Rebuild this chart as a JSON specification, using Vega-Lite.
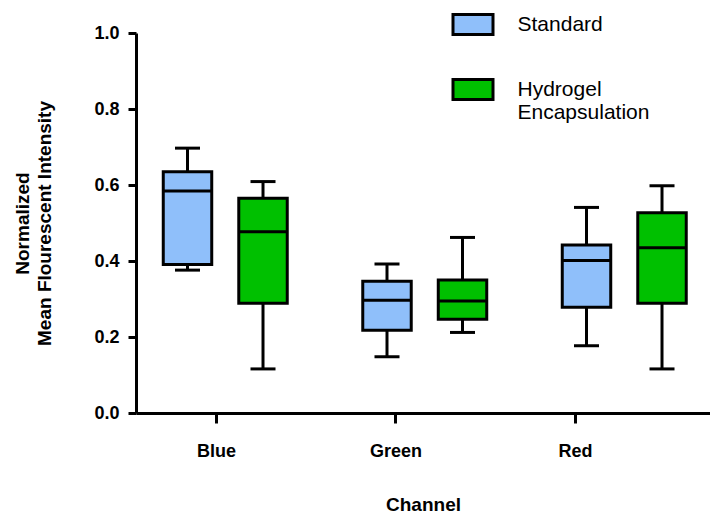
{
  "$schema": "https://vega.github.io/schema/vega-lite/v6.json",
  "width": 574,
  "height": 380,
  "autosize": {"type": "none"},
  "padding": {"left": 136, "top": 33, "right": 0, "bottom": 103},
  "background": "white",
  "config": {
    "view": {"stroke": null},
    "font": "Liberation Sans",
    "axis": {
      "domainColor": "black",
      "domainWidth": 3,
      "tickColor": "black",
      "tickWidth": 3,
      "labelColor": "black",
      "labelFont": "Liberation Sans",
      "labelFontWeight": "bold",
      "labelFontSize": 18,
      "titleFont": "Liberation Sans",
      "titleFontWeight": "bold",
      "titleFontSize": 19,
      "titleColor": "black",
      "grid": false
    },
    "axisY": {
      "tickSize": 8,
      "labelPadding": 9,
      "format": ".1f",
      "titleAngle": -90,
      "titleBaseline": "middle",
      "titleAlign": "center",
      "titleX": -114,
      "titleY": 190,
      "titleLineHeight": 22
    },
    "legend": {
      "orient": "none",
      "legendX": 315.5,
      "legendY": -30,
      "padding": 0,
      "labelFont": "Liberation Sans",
      "labelFontSize": 21,
      "labelColor": "black",
      "labelLimit": 400,
      "labelOffset": 23,
      "rowPadding": 27,
      "symbolStrokeColor": "black",
      "symbolStrokeWidth": 3,
      "symbolSize": 1600
    }
  },
  "data": {
    "values": [
      {"Channel": "Blue", "Group": "Standard", "min": 0.376, "q1": 0.391, "median": 0.584, "q3": 0.635, "max": 0.697},
      {"Channel": "Blue", "Group": "Hydrogel Encapsulation", "min": 0.116, "q1": 0.289, "median": 0.477, "q3": 0.565, "max": 0.609},
      {"Channel": "Green", "Group": "Standard", "min": 0.148, "q1": 0.218, "median": 0.297, "q3": 0.347, "max": 0.392},
      {"Channel": "Green", "Group": "Hydrogel Encapsulation", "min": 0.212, "q1": 0.247, "median": 0.295, "q3": 0.35, "max": 0.462},
      {"Channel": "Red", "Group": "Standard", "min": 0.177, "q1": 0.278, "median": 0.401, "q3": 0.442, "max": 0.541},
      {"Channel": "Red", "Group": "Hydrogel Encapsulation", "min": 0.116, "q1": 0.289, "median": 0.435, "q3": 0.527, "max": 0.598}
    ]
  },
  "resolve": {"scale": {"x": "independent"}, "axis": {"x": "independent"}},
  "layer": [
    {
      "encoding": {
        "x": {
          "field": "Channel",
          "type": "nominal",
          "sort": ["Blue", "Green", "Red"],
          "scale": {"type": "band", "paddingInner": 0, "paddingOuter": 0, "range": [0, 598.5]},
          "axis": null
        },
        "xOffset": {
          "field": "Group",
          "type": "nominal",
          "sort": ["Standard", "Hydrogel Encapsulation"],
          "scale": {"domain": ["Standard", "Hydrogel Encapsulation"], "paddingInner": 0.358, "paddingOuter": 0.5, "align": 0.361}
        }
      },
      "layer": [
        {
          "mark": {"type": "rule", "color": "black", "strokeWidth": 3},
          "encoding": {
            "y": {
              "field": "min",
              "type": "quantitative",
              "scale": {"domain": [0, 1], "nice": false},
              "title": ["Normalized", "Mean Flourescent Intensity"],
              "axis": {"values": [0, 0.2, 0.4, 0.6, 0.8, 1.0], "format": ".1f"}
            },
            "y2": {"field": "max"}
          }
        },
        {
          "mark": {"type": "bar", "stroke": "black", "strokeWidth": 3, "opacity": 1},
          "encoding": {
            "y": {"field": "q1", "type": "quantitative", "title": ["Normalized", "Mean Flourescent Intensity"], "axis": {"values": [0, 0.2, 0.4, 0.6, 0.8, 1.0], "format": ".1f"}},
            "y2": {"field": "q3"},
            "fill": {
              "field": "Group",
              "type": "nominal",
              "scale": {"domain": ["Standard", "Hydrogel Encapsulation"], "range": ["#8FBFFA", "#00C000"]},
              "legend": {
                "title": null,
                "symbolType": "M-1,-0.5H1V0.5H-1Z",
                "labelExpr": "datum.label == 'Hydrogel Encapsulation' ? ['Hydrogel', 'Encapsulation'] : datum.label"
              }
            }
          }
        },
        {
          "mark": {"type": "tick", "color": "black", "thickness": 3, "size": 48, "opacity": 1},
          "encoding": {
            "y": {"field": "median", "type": "quantitative", "title": ["Normalized", "Mean Flourescent Intensity"], "axis": {"values": [0, 0.2, 0.4, 0.6, 0.8, 1.0], "format": ".1f"}}
          }
        },
        {
          "mark": {"type": "tick", "color": "black", "thickness": 3, "size": 25, "opacity": 1},
          "encoding": {
            "y": {"field": "min", "type": "quantitative", "title": ["Normalized", "Mean Flourescent Intensity"], "axis": {"values": [0, 0.2, 0.4, 0.6, 0.8, 1.0], "format": ".1f"}}
          }
        },
        {
          "mark": {"type": "tick", "color": "black", "thickness": 3, "size": 25, "opacity": 1},
          "encoding": {
            "y": {"field": "max", "type": "quantitative", "title": ["Normalized", "Mean Flourescent Intensity"], "axis": {"values": [0, 0.2, 0.4, 0.6, 0.8, 1.0], "format": ".1f"}}
          }
        }
      ]
    },
    {
      "mark": {"type": "point", "opacity": 0, "size": 0},
      "encoding": {
        "x": {
          "field": "Channel",
          "type": "nominal",
          "sort": ["Blue", "Green", "Red"],
          "scale": {"type": "point", "padding": 0.599, "align": 0.372},
          "axis": {
            "orient": "bottom",
            "title": "Channel",
            "labelAngle": 0,
            "tickSize": 10,
            "labelPadding": 19,
            "titleBaseline": "top",
            "titleY": 82
          }
        },
        "y": {"field": "median", "type": "quantitative", "title": ["Normalized", "Mean Flourescent Intensity"], "axis": {"values": [0, 0.2, 0.4, 0.6, 0.8, 1.0], "format": ".1f"}}
      }
    }
  ]
}
